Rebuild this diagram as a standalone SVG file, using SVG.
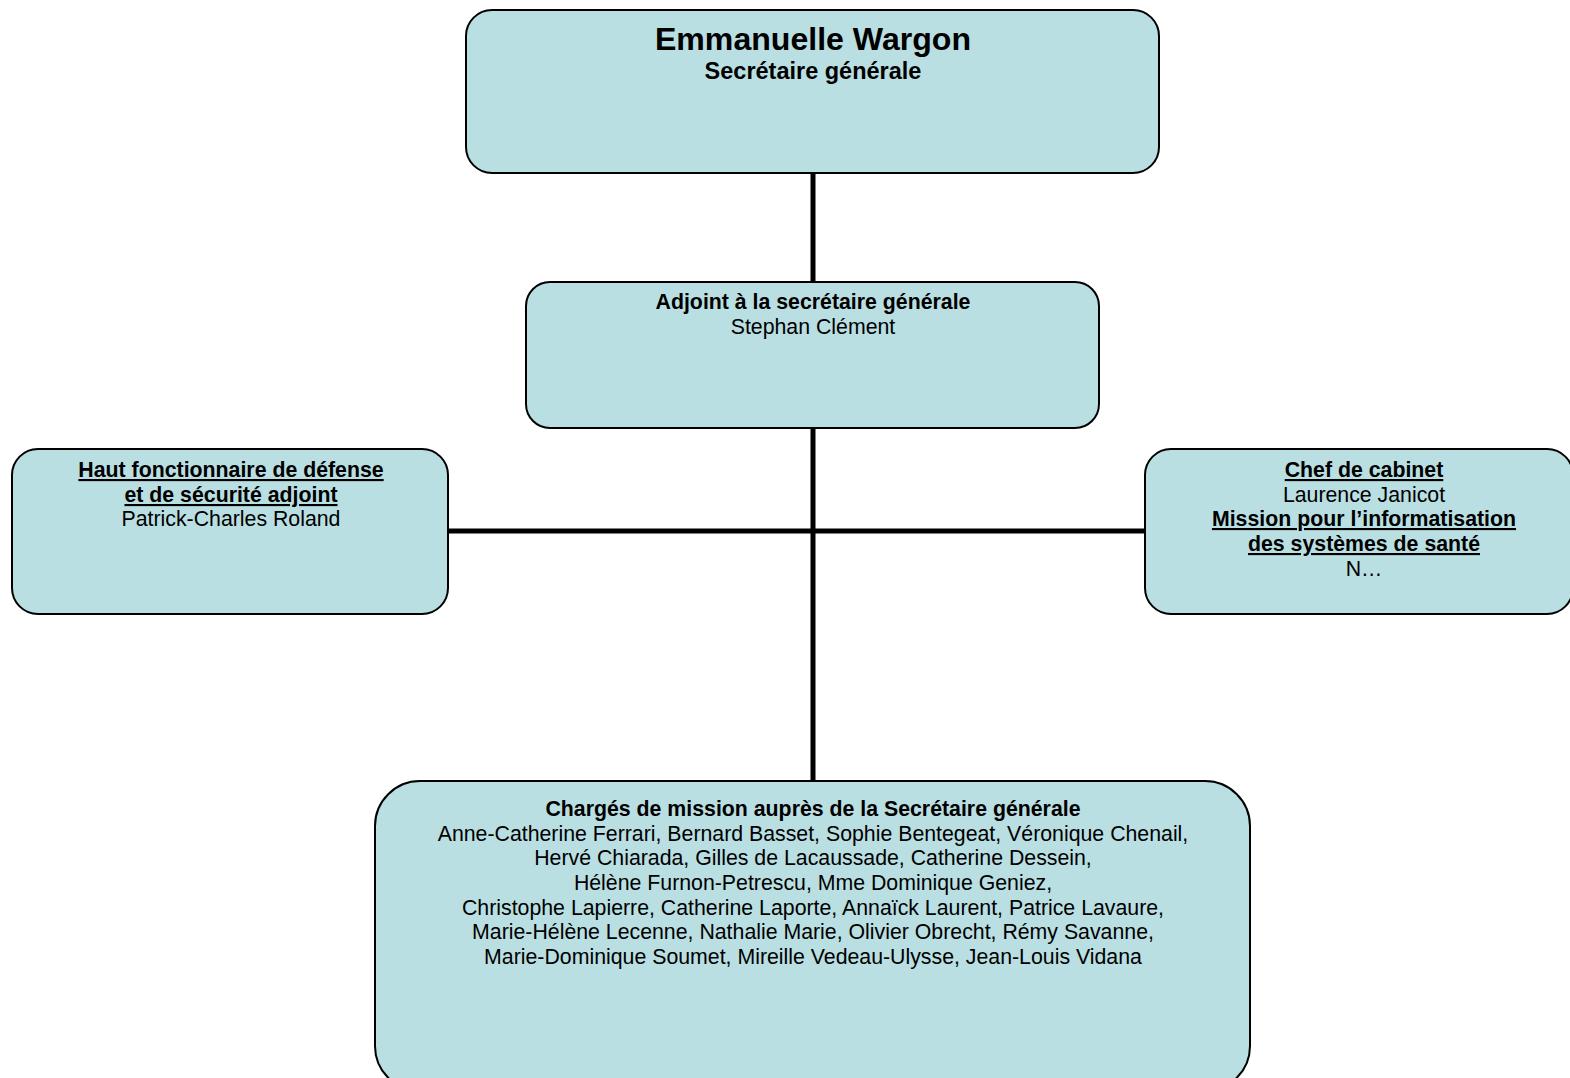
<svg xmlns="http://www.w3.org/2000/svg" width="1570" height="1078" viewBox="0 0 1570 1078">
<style>
.box{fill:#b9dfe2;stroke:#000;stroke-width:2}
text{font-family:"Liberation Sans",Arial,sans-serif;font-size:21.3px;fill:#000;text-anchor:middle}
.b{font-weight:bold}
.u{font-weight:bold;text-decoration:underline}
.conn{stroke:#000;stroke-width:5;fill:none}
</style>
<rect width="1570" height="1078" fill="#fff"/>
<g id="connectors">
<line class="conn" x1="813" y1="173" x2="813" y2="282"/>
<line class="conn" x1="813" y1="428" x2="813" y2="781"/>
<line class="conn" x1="448" y1="531" x2="1145" y2="531"/>
</g>
<g id="node-wargon">
<rect class="box" x="466" y="10" width="693" height="163" rx="26"/>
<text class="b" x="813" y="50" style="font-size:32.1px">Emmanuelle Wargon</text>
<text class="b" x="813" y="79" style="font-size:23.5px">Secrétaire générale</text>
</g>
<g id="node-adjoint">
<rect class="box" x="526" y="282" width="573" height="146" rx="24"/>
<text class="b" x="813" y="309">Adjoint à la secrétaire générale</text>
<text x="813" y="334">Stephan Clément</text>
</g>
<g id="node-hfds">
<rect class="box" x="12" y="449" width="436" height="165" rx="26"/>
<text class="u" x="231" y="477">Haut fonctionnaire de défense</text>
<text class="u" x="231" y="502">et de sécurité adjoint</text>
<text x="231" y="526">Patrick-Charles Roland</text>
</g>
<g id="node-cabinet">
<rect class="box" x="1145" y="449" width="428" height="165" rx="26"/>
<text class="u" x="1364" y="477">Chef de cabinet</text>
<text x="1364" y="502">Laurence Janicot</text>
<text class="u" x="1364" y="526">Mission pour l’informatisation</text>
<text class="u" x="1364" y="551">des systèmes de santé</text>
<text x="1364" y="576">N…</text>
</g>
<g id="node-charges">
<rect class="box" x="375" y="781" width="875" height="310" rx="45"/>
<text class="b" x="813" y="816">Chargés de mission auprès de la Secrétaire générale</text>
<text x="813" y="841">Anne-Catherine Ferrari, Bernard Basset, Sophie Bentegeat, Véronique Chenail,</text>
<text x="813" y="865">Hervé Chiarada, Gilles de Lacaussade, Catherine Dessein,</text>
<text x="813" y="890">Hélène Furnon-Petrescu, Mme Dominique Geniez,</text>
<text x="813" y="915">Christophe Lapierre, Catherine Laporte, Annaïck Laurent, Patrice Lavaure,</text>
<text x="813" y="939">Marie-Hélène Lecenne, Nathalie Marie, Olivier Obrecht, Rémy Savanne,</text>
<text x="813" y="964">Marie-Dominique Soumet, Mireille Vedeau-Ulysse, Jean-Louis Vidana</text>
</g>
</svg>
